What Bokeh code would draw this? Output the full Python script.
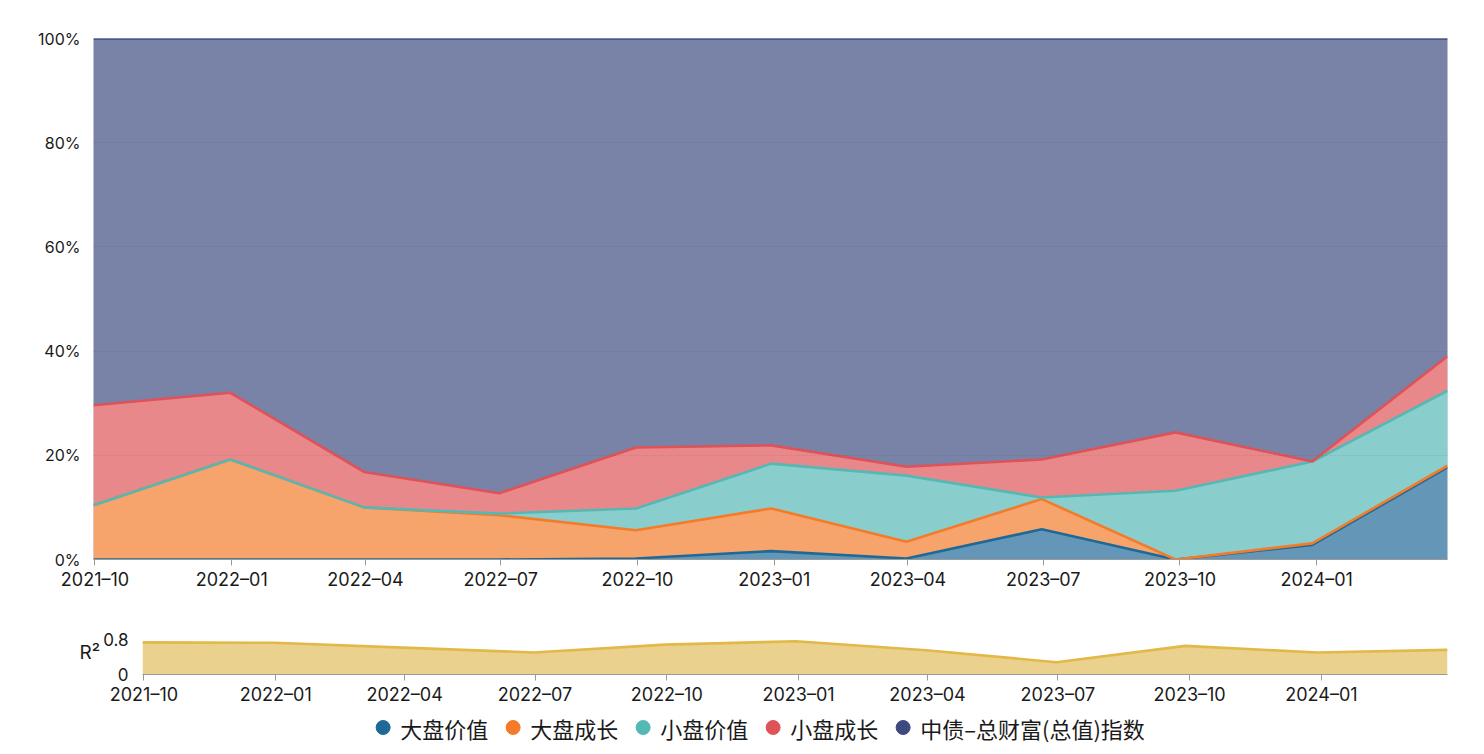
import numpy as np
import pandas as pd
from bokeh.plotting import figure
from bokeh.layouts import column
from bokeh.models import (ColumnDataSource, Range1d, FixedTicker, MonthsTicker,
                          DatetimeTickFormatter, PrintfTickFormatter, Legend,
                          LegendItem)
from bokeh.embed import file_html
from bokeh.resources import INLINE

# ---------------- data ----------------
dates = ["2021-09-30", "2021-12-31", "2022-03-31", "2022-06-30", "2022-09-30",
         "2022-12-30", "2023-03-31", "2023-06-30", "2023-09-28", "2023-12-29",
         "2024-03-29"]
series_names = ["大盘价值", "大盘成长", "小盘价值", "小盘成长", "中债–总财富(总值)指数"]
large_value = [0.0, 0.0, 0.0, 0.0, 0.2, 1.6, 0.2, 5.8, 0.0, 2.8, 17.7]
large_growth = [10.4, 19.2, 10.0, 8.5, 5.4, 8.2, 3.2, 5.8, 0.0, 0.3, 0.3]
small_value = [0.0, 0.0, 0.0, 0.3, 4.2, 8.6, 12.7, 0.3, 13.2, 15.7, 14.4]
small_growth = [19.2, 12.8, 6.8, 3.9, 11.7, 3.5, 1.7, 7.3, 11.2, 0.0, 6.6]
bond_index = [70.4, 68.0, 83.2, 87.3, 78.5, 78.1, 82.2, 80.8, 75.6, 81.2, 61.0]
r_squared = [0.73, 0.72, 0.61, 0.50, 0.68, 0.755, 0.55, 0.28, 0.65, 0.50, 0.56]

y_ticks = [0, 20, 40, 60, 80, 100]
r2_ticks = [0, 0.8]
quarter_months = [0, 3, 6, 9]   # Jan, Apr, Jul, Oct (0-based in BokehJS)

line_colors = ["#1e6996", "#f47b2a", "#54b8b5", "#df5257", "#3d4a80"]

FONT = "Inter"
TXT = "#1a1a1a"
W = 1470


def style_xaxis(ax):
    ax.ticker = MonthsTicker(months=quarter_months)
    ax.formatter = DatetimeTickFormatter(months="%Y–%m", days="%Y–%m")
    ax.axis_line_color = "#9a9a9a"
    ax.major_tick_line_color = "#9a9a9a"
    ax.major_tick_out = 6
    ax.major_tick_in = 0
    ax.minor_tick_line_color = None
    ax.major_label_text_font = FONT
    ax.major_label_text_font_size = "18px"
    ax.major_label_text_color = TXT
    ax.major_label_standoff = 3


def style_yaxis(ax):
    ax.axis_line_color = None
    ax.major_tick_line_color = None
    ax.minor_tick_line_color = None
    ax.major_label_text_font = FONT
    ax.major_label_text_font_size = "16px"
    ax.major_label_text_color = TXT
    ax.major_label_standoff = 7


# ---------------- top chart ----------------
x = pd.to_datetime(dates)
layers = [large_value, large_growth, small_value, small_growth, bond_index]
cum = np.cumsum(np.array(layers, dtype=float), axis=0)
data = {"x": x, "zero": np.zeros(len(x))}
for i in range(len(layers)):
    data[f"top{i}"] = cum[i]
src = ColumnDataSource(data)

p1 = figure(width=W, height=600, x_axis_type="datetime",
            x_range=Range1d(x[0], x[-1]), y_range=Range1d(0, 100),
            output_backend="svg", toolbar_location=None,
            min_border_left=93, min_border_right=23, min_border_top=38,
            min_border_bottom=41)
p1.frame_align = False
p1.outline_line_color = "#d5d8e2"

for i in range(len(layers)):
    bottom = "zero" if i == 0 else f"top{i-1}"
    p1.varea(x="x", y1=bottom, y2=f"top{i}", source=src,
             fill_color=line_colors[i], fill_alpha=0.69)
for i in range(len(layers)):
    p1.line(x="x", y=f"top{i}", source=src, line_color=line_colors[i],
            line_width=2.6)

p1.xgrid.visible = False
p1.ygrid.ticker = FixedTicker(ticks=[20, 40, 60, 80])
p1.ygrid.grid_line_color = "#333333"
p1.ygrid.grid_line_alpha = 0.12
p1.ygrid.grid_line_dash = "2 2"
p1.ygrid.level = "overlay"

p1.yaxis.ticker = FixedTicker(ticks=y_ticks)
p1.yaxis.formatter = PrintfTickFormatter(format="%d%%")
style_yaxis(p1.yaxis[0])
style_xaxis(p1.xaxis[0])

# ---------------- bottom chart ----------------
src2 = ColumnDataSource({"x": x, "r2": r_squared, "zero": np.zeros(len(x))})
p2 = figure(width=W, height=107, x_axis_type="datetime",
            x_range=Range1d(x[0], x[-1]), y_range=Range1d(0, 1),
            output_backend="svg", toolbar_location=None,
            min_border_left=142, min_border_right=23, min_border_top=30,
            min_border_bottom=32)
p2.frame_align = False
p2.outline_line_color = None
p2.grid.visible = False
p2.varea(x="x", y1="zero", y2="r2", source=src2, fill_color="#ebd18e")
p2.line(x="x", y="r2", source=src2, line_color="#e2b848", line_width=2.6)

p2.yaxis.ticker = FixedTicker(ticks=r2_ticks)
p2.yaxis.major_label_overrides = {0: "0", 0.8: "0.8"}
style_yaxis(p2.yaxis[0])
p2.yaxis.major_label_text_font_size = "17px"
p2.yaxis.major_label_standoff = 8
p2.yaxis.axis_label = "R²"
p2.yaxis.axis_label_text_font = FONT
p2.yaxis.axis_label_text_font_size = "19px"
p2.yaxis.axis_label_text_font_style = "normal"
p2.yaxis.axis_label_text_color = TXT
p2.yaxis.axis_label_standoff = 0
try:
    p2.yaxis.axis_label_orientation = "horizontal"
except Exception:
    pass
style_xaxis(p2.xaxis[0])

# ---------------- legend strip ----------------
p3 = figure(width=W, height=40, x_range=Range1d(0, 1), y_range=Range1d(0, 1),
            output_backend="svg", toolbar_location=None,
            min_border=0, min_border_left=40)
p3.frame_align = False
p3.axis.visible = False
p3.grid.visible = False
p3.outline_line_color = None
items = []
for name, c in zip(series_names, line_colors):
    # legend proxy: one undefined (NaN) point, so only the legend swatch shows
    r = p3.scatter(x=[np.nan], y=[np.nan], marker="circle", size=14,
                   fill_color=c, line_color=c)
    items.append(LegendItem(label=name, renderers=[r]))
legend = Legend(items=items, orientation="horizontal", location="center",
                label_text_font="Noto Sans CJK SC", label_text_font_size="22px",
                label_text_color=TXT,
                glyph_width=35, glyph_height=35, label_standoff=0, spacing=7,
                padding=0, margin=0, border_line_color=None,
                background_fill_alpha=0)
p3.add_layout(legend, "center")

layout = column(p1, p2, p3)
open("out.html", "w").write(file_html(layout, INLINE))
